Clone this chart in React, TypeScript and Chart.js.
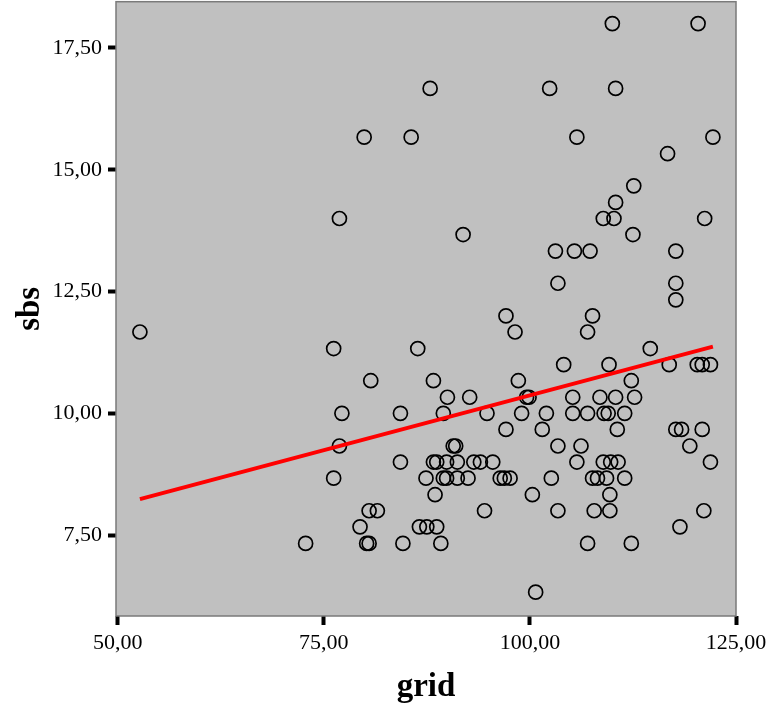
import React, { useEffect, useRef } from "react";
import { Chart, registerables } from "chart.js";

Chart.register(...registerables);

// grid / sbs observations, grouped by sbs value
const gridValues: number[] = [
  110.0, 120.4,
  87.9, 102.4, 110.4,
  79.9, 85.6, 105.7, 122.2,
  116.7,
  112.6,
  110.4,
  76.9, 108.9, 110.2, 121.2,
  91.9, 112.5,
  103.1, 105.4, 107.3, 117.7,
  103.4, 117.7,
  117.7,
  97.1, 107.6,
  52.7, 98.2, 107.0,
  76.2, 86.4, 114.6,
  104.1, 109.6, 116.9, 120.3, 120.9, 121.9,
  80.7, 88.3, 98.6, 112.3,
  90.0, 92.7, 99.6, 99.9, 105.2, 108.5, 110.4, 112.7,
  77.2, 84.3, 89.5, 94.8, 99.0, 102.0, 105.2, 107.0, 109.0, 109.5, 111.5,
  97.1, 101.5, 110.6, 117.7, 118.4, 120.9,
  76.9, 90.7, 91.0, 103.4, 106.2, 119.4,
  84.3, 88.3, 88.7, 89.9, 91.2, 93.2, 94.0, 95.5, 105.7, 108.9, 109.8, 110.7, 121.9,
  76.2, 87.4, 89.5, 89.9, 91.2, 92.5, 96.4, 96.9, 97.6, 102.6, 107.6, 108.2, 109.3, 111.5,
  88.5, 100.3, 109.7,
  80.5, 81.5, 94.5, 103.4, 107.8, 109.7, 121.1,
  79.4, 86.6, 87.5, 88.7, 118.2,
  72.8, 80.2, 80.5, 84.6, 89.2, 107.0, 112.3,
  100.7,
];

const sbsValues: number[] = [
  18.0, 18.0,
  16.67, 16.67, 16.67,
  15.67, 15.67, 15.67, 15.67,
  15.33,
  14.67,
  14.33,
  14.0, 14.0, 14.0, 14.0,
  13.67, 13.67,
  13.33, 13.33, 13.33, 13.33,
  12.67, 12.67,
  12.33,
  12.0, 12.0,
  11.67, 11.67, 11.67,
  11.33, 11.33, 11.33,
  11.0, 11.0, 11.0, 11.0, 11.0, 11.0,
  10.67, 10.67, 10.67, 10.67,
  10.33, 10.33, 10.33, 10.33, 10.33, 10.33, 10.33, 10.33,
  10.0, 10.0, 10.0, 10.0, 10.0, 10.0, 10.0, 10.0, 10.0, 10.0, 10.0,
  9.67, 9.67, 9.67, 9.67, 9.67, 9.67,
  9.33, 9.33, 9.33, 9.33, 9.33, 9.33,
  9.0, 9.0, 9.0, 9.0, 9.0, 9.0, 9.0, 9.0, 9.0, 9.0, 9.0, 9.0, 9.0,
  8.67, 8.67, 8.67, 8.67, 8.67, 8.67, 8.67, 8.67, 8.67, 8.67, 8.67, 8.67, 8.67, 8.67,
  8.33, 8.33, 8.33,
  8.0, 8.0, 8.0, 8.0, 8.0, 8.0, 8.0,
  7.67, 7.67, 7.67, 7.67, 7.67,
  7.33, 7.33, 7.33, 7.33, 7.33, 7.33, 7.33,
  6.33,
];

// fitted line end points
const fitGrid: number[] = [52.7, 122.2];
const fitSbs: number[] = [8.24, 11.37];

const xTicks: number[] = [50, 75, 100, 125];
const xTickLabels: string[] = ["50,00", "75,00", "100,00", "125,00"];
const yTicks: number[] = [7.5, 10, 12.5, 15, 17.5];
const yTickLabels: string[] = ["7,50", "10,00", "12,50", "15,00", "17,50"];

const SERIF = "'Liberation Serif', 'Times New Roman', serif";

const plotBg = {
  id: "plotBg",
  beforeDatasetsDraw(chart: any) {
    const { ctx, chartArea: a } = chart;
    ctx.save();
    ctx.fillStyle = "#c0c0c0";
    ctx.fillRect(a.left, a.top, a.right - a.left, a.bottom - a.top);
    ctx.strokeStyle = "#7a7a7a";
    ctx.lineWidth = 1.5;
    ctx.strokeRect(a.left, a.top, a.right - a.left, a.bottom - a.top);
    ctx.restore();
  },
};

const zeroPad = (s: any) => {
  s.paddingLeft = 0;
  s.paddingRight = 0;
  s.paddingTop = 0;
  s.paddingBottom = 0;
};

export default function App() {
  const ref = useRef<HTMLCanvasElement | null>(null);

  useEffect(() => {
    if (!ref.current) return;
    const points = gridValues.map((g, i) => ({ x: g, y: sbsValues[i] }));
    const fit = fitGrid.map((g, i) => ({ x: g, y: fitSbs[i] }));
    const chart = new Chart(ref.current, {
      type: "scatter",
      data: {
        datasets: [
          {
            type: "line",
            label: "fit",
            data: fit,
            borderColor: "#ff0000",
            borderWidth: 4,
            pointRadius: 0,
            fill: false,
            order: 0,
          } as any,
          {
            label: "sbs",
            data: points,
            pointStyle: "circle",
            pointRadius: 7,
            pointBorderWidth: 1.7,
            borderColor: "#000000",
            backgroundColor: "rgba(0,0,0,0)",
            order: 1,
          },
        ],
      },
      plugins: [plotBg],
      options: {
        responsive: false,
        animation: false,
        events: [],
        layout: { padding: { top: 2, right: 32, left: 0, bottom: 0 } },
        plugins: {
          legend: { display: false },
          tooltip: { enabled: false },
        },
        scales: {
          x: {
            type: "linear",
            min: 49.8,
            max: 125,
            afterFit: (s: any) => {
              s.height = 104;
              zeroPad(s);
            },
            afterBuildTicks: (s: any) => {
              s.ticks = xTicks.map((v) => ({ value: v }));
            },
            ticks: {
              color: "#000",
              font: { family: SERIF, size: 22 },
              padding: 5,
              maxRotation: 0,
              autoSkip: false,
              callback: (_v: any, i: number) => xTickLabels[i],
            },
            grid: {
              drawOnChartArea: false,
              drawTicks: true,
              tickLength: 9,
              tickWidth: 4,
              tickColor: "#000",
            },
            border: { display: false },
            title: {
              display: true,
              text: "grid",
              color: "#000",
              font: { family: SERIF, size: 33, weight: "bold" },
              padding: { top: 0, bottom: 13 },
            },
          },
          y: {
            type: "linear",
            min: 5.84,
            max: 18.45,
            afterFit: (s: any) => {
              s.width = 116;
              zeroPad(s);
            },
            afterBuildTicks: (s: any) => {
              s.ticks = yTicks.map((v) => ({ value: v }));
            },
            ticks: {
              color: "#000",
              font: { family: SERIF, size: 22 },
              padding: 6,
              autoSkip: false,
              callback: (_v: any, i: number) => yTickLabels[i],
            },
            grid: {
              drawOnChartArea: false,
              drawTicks: true,
              tickLength: 8,
              tickWidth: 4,
              tickColor: "#000",
            },
            border: { display: false },
            title: {
              display: true,
              text: "sbs",
              color: "#000",
              font: { family: SERIF, size: 33, weight: "bold" },
              padding: { top: 11, bottom: 0 },
            },
          },
        },
      },
    });
    return () => chart.destroy();
  }, []);

  return (
    <div style={{ position: "fixed", left: 0, top: 0, width: 768, height: 720, background: "#fff", overflow: "hidden" }}>
      <canvas ref={ref} width={768} height={727} style={{ display: "block", marginTop: -7 }} />
    </div>
  );
}
